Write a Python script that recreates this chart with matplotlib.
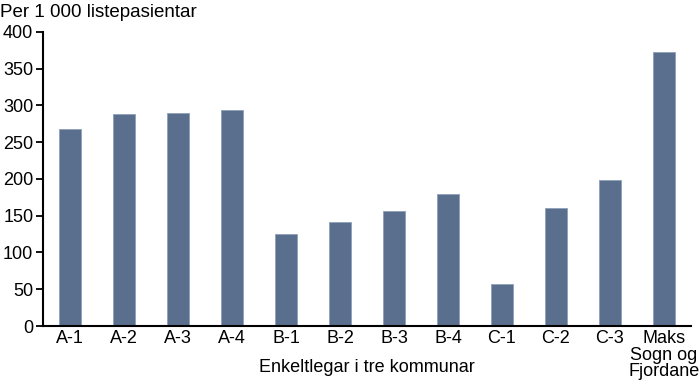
import matplotlib
matplotlib.use("Agg")
import matplotlib.pyplot as plt

categories = ["A-1", "A-2", "A-3", "A-4", "B-1", "B-2", "B-3", "B-4",
              "C-1", "C-2", "C-3", "Maks\nSogn og\nFjordane"]
values = [268, 288, 289, 293, 125, 141, 157, 179, 57, 160, 199, 373]
yticks = [0, 50, 100, 150, 200, 250, 300, 350, 400]

plt.rcParams['font.family'] = ['Liberation Sans', 'DejaVu Sans']
fig = plt.figure(figsize=(7, 3.87), dpi=100)
ax = fig.add_axes([0.0614, 0.1576, 0.9257, 0.7604])

x = list(range(len(categories)))
ax.bar(x, values, width=0.39, color="#5a6e8e", edgecolor="#8fa0bb", linewidth=0.6)

ax.set_xlim(-0.5, 11.5)
ax.set_ylim(0, 400)
ax.set_yticks(yticks)
ax.set_xticks(x)
ax.set_xticklabels(categories, fontsize=13, linespacing=0.95, va="top")
ax.tick_params(axis="y", labelsize=13, length=5, width=1.3, direction="out", pad=2)
ax.tick_params(axis="x", length=0, pad=3)
for s in ["top", "right"]:
    ax.spines[s].set_visible(False)
for s in ["left", "bottom"]:
    ax.spines[s].set_linewidth(1.5)

fig.text(0.524, 1 - 368 / 387, "Enkeltlegar i tre kommunar", fontsize=13,
         ha="center", va="center")
fig.text(0.0, 0.968, "Per 1 000 listepasientar", fontsize=13.5, ha="left", va="center")

fig.savefig("out.png", dpi=100)
